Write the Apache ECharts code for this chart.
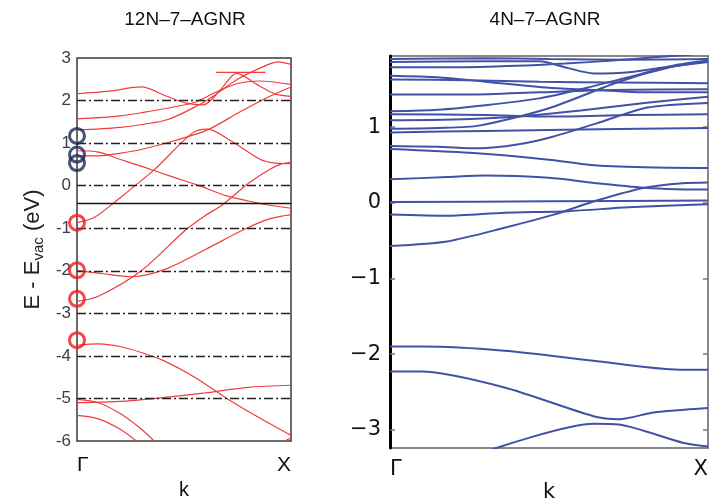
<!DOCTYPE html>
<html>
<head>
<meta charset="utf-8">
<script src="https://cdn.jsdelivr.net/npm/echarts@6/dist/echarts.min.js"></script>
<style>
  html, body { margin: 0; padding: 0; background: #fff; }
  #main { width: 712px; height: 500px; }
</style>
</head>
<body>
<div id="main"></div>
<script>
// 12N-7-AGNR bands, [k, E] pairs (k: 0 = Γ, 1 = X)
var leftBands = [
  [[0, 2.16], [0.15, 2.22], [0.3, 2.32], [0.42, 2.1], [0.51, 1.94], [0.59, 1.9], [0.67, 2.25], [0.746, 2.64], [0.85, 2.35], [0.93, 2.15], [1, 2.1]],
  [[0, 1.57], [0.2, 1.64], [0.42, 1.82], [0.55, 1.96], [0.65, 2.2], [0.75, 2.4], [0.85, 2.46], [1, 2.38]],
  [[0, 1.31], [0.2, 1.37], [0.42, 1.55], [0.57, 1.9], [0.65, 2.15], [0.75, 2.5], [0.85, 2.75], [0.94, 2.91], [1, 2.85]],
  [[0.65, 2.66], [0.88, 2.66]],
  [[0, 0.82], [0.1, 0.79], [0.2, 0.62], [0.31, 0.44], [0.45, 0.2], [0.56, 0.02], [0.7, -0.24], [0.8, -0.36], [0.9, -0.46], [1, -0.53]],
  [[0, 0.7], [0.1, 0.7], [0.2, 0.76], [0.3, 0.85], [0.45, 1.05], [0.61, 1.31], [0.75, 1.7], [0.88, 2.05], [1, 2.32]],
  [[0, -0.87], [0.08, -0.75], [0.19, -0.33], [0.36, 0.37], [0.54, 1.24], [0.61, 1.33], [0.72, 1.05], [0.86, 0.61], [0.93, 0.53], [1, 0.52]],
  [[0, -1.99], [0.12, -2.07], [0.26, -2.14], [0.42, -1.95], [0.6, -1.5], [0.78, -1.03], [0.9, -0.78], [1, -0.68]],
  [[0, -2.72], [0.1, -2.6], [0.3, -2.0], [0.51, -1.03], [0.6, -0.7], [0.68, -0.45], [0.8, 0.05], [0.9, 0.38], [0.95, 0.5], [1, 0.55]],
  [[0, -3.75], [0.1, -3.72], [0.2, -3.78], [0.3, -3.92], [0.4, -4.1], [0.55, -4.5], [0.7, -5.0], [0.85, -5.45], [1, -5.87]],
  [[0, -5.1], [0.2, -5.07], [0.4, -4.98], [0.6, -4.87], [0.8, -4.74], [1, -4.69]],
  [[0, -5.02], [0.1, -5.1], [0.2, -5.35], [0.3, -5.72], [0.37, -6.05]],
  [[0, -5.4], [0.1, -5.48], [0.2, -5.72], [0.29, -6.05]],
  [[0.95, -6.05], [1, -5.93]]
];
var leftFermi = -0.41;
var leftGridLevels = [-5, -4, -3, -2, -1, 0, 1, 2];
var leftNavyCircles = [[0, 1.17], [0, 0.73], [0, 0.53]];
var leftRedCircles = [[0, -0.87], [0, -1.99], [0, -2.66], [0, -3.63]];

// 4N-7-AGNR bands
var rightBands = [
  [[0, 1.9], [0.3, 1.91], [0.5, 1.9], [0.75, 1.89], [1, 1.9]],
  [[0, 1.86], [0.3, 1.87], [0.47, 1.87], [0.56, 1.78], [0.64, 1.71], [0.76, 1.73], [0.88, 1.8], [1, 1.86]],
  [[0, 1.79], [0.2, 1.79], [0.4, 1.81], [0.55, 1.84], [0.7, 1.88], [0.85, 1.93], [0.95, 1.96]],
  [[0, 1.68], [0.15, 1.66], [0.3, 1.6], [0.5, 1.52], [0.65, 1.49], [0.8, 1.46], [1, 1.46]],
  [[0, 1.63], [0.25, 1.62], [0.47, 1.6], [0.7, 1.59], [1, 1.58]],
  [[0, 1.43], [0.25, 1.43], [0.47, 1.46], [0.7, 1.49], [1, 1.5]],
  [[0, 1.21], [0.15, 1.23], [0.3, 1.29], [0.47, 1.38], [0.6, 1.5], [0.75, 1.66], [0.9, 1.82], [1, 1.88]],
  [[0, 1.17], [0.3, 1.16], [0.5, 1.14], [0.75, 1.16], [1, 1.17]],
  [[0, 1.09], [0.2, 1.1], [0.4, 1.14], [0.6, 1.22], [0.8, 1.32], [1, 1.4]],
  [[0, 0.98], [0.15, 0.99], [0.28, 1.02], [0.5, 1.25], [0.72, 1.6], [0.88, 1.79], [1, 1.87]],
  [[0, 0.93], [0.3, 0.95], [0.6, 0.97], [1, 0.99]],
  [[0, 0.75], [0.15, 0.74], [0.28, 0.72], [0.4, 0.77], [0.5, 0.86], [0.65, 1.05], [0.81, 1.26], [1, 1.32]],
  [[0, 0.71], [0.25, 0.66], [0.5, 0.57], [0.63, 0.5], [0.8, 0.47], [1, 0.46]],
  [[0, 0.31], [0.18, 0.34], [0.3, 0.36], [0.5, 0.33], [0.65, 0.26], [0.8, 0.2], [0.9, 0.18], [1, 0.175]],
  [[0, 0.01], [0.5, 0.02], [1, 0.03]],
  [[0, -0.154], [0.18, -0.17], [0.36, -0.13], [0.56, -0.11], [0.75, -0.06], [1, -0.02]],
  [[0, -0.57], [0.18, -0.51], [0.36, -0.33], [0.52, -0.15], [0.65, 0.03], [0.8, 0.2], [0.92, 0.26], [1, 0.27]],
  [[0, -1.9], [0.1, -1.9], [0.36, -1.955], [0.64, -2.087], [0.91, -2.205], [1, -2.205]],
  [[0, -2.23], [0.1, -2.23], [0.36, -2.44], [0.64, -2.82], [0.72, -2.86], [0.83, -2.77], [1, -2.71]],
  [[0.32, -3.26], [0.64, -2.92], [0.72, -2.93], [0.92, -3.17], [1, -3.22]]
];
var rightTicks = [-3, -2, -1, 0, 1];

var kLabels = ['Γ', 'X'];
var titles = ['12N–7–AGNR', '4N–7–AGNR'];

var font = 'Liberation Sans, Arial, sans-serif';
var dejavu = 'DejaVu Sans, sans-serif';
var series = [];

leftBands.forEach(function (band) {
  series.push({
    type: 'line', xAxisIndex: 0, yAxisIndex: 0,
    data: band, smooth: 0.3, symbol: 'none', silent: true,
    lineStyle: { color: '#f23b3b', width: 1.2 }
  });
});
// dash-dot reference levels + Fermi level
series.push({
  type: 'line', xAxisIndex: 0, yAxisIndex: 0, data: [], silent: true,
  markLine: {
    symbol: 'none', silent: true, label: { show: false },
    data: leftGridLevels.map(function (v) {
      return { yAxis: v, lineStyle: { color: '#222', width: 1.3, type: [9, 3, 2, 3] } };
    }).concat([{ yAxis: leftFermi, lineStyle: { color: '#111', width: 1.3, type: 'solid' } }])
  }
});
series.push({
  type: 'scatter', xAxisIndex: 0, yAxisIndex: 0, data: leftNavyCircles, clip: false,
  symbol: 'circle', symbolSize: 15, z: 5,
  itemStyle: { color: 'rgba(255,255,255,0)', borderColor: '#1d2756', borderWidth: 3 }
});
series.push({
  type: 'scatter', xAxisIndex: 0, yAxisIndex: 0, data: leftRedCircles, clip: false,
  symbol: 'circle', symbolSize: 15, z: 5,
  itemStyle: { color: 'rgba(255,255,255,0)', borderColor: '#ee1c1c', borderWidth: 3 }
});

rightBands.forEach(function (band) {
  series.push({
    type: 'line', xAxisIndex: 1, yAxisIndex: 1,
    data: band, smooth: 0.25, symbol: 'none', silent: true,
    lineStyle: { color: '#4152a6', width: 2 }
  });
});

var kAxisLabel = {
  color: '#111', fontSize: 21, fontFamily: font, margin: 14,
  alignMinLabel: 'left', alignMaxLabel: 'right',
  formatter: function (v) { return v === 0 ? kLabels[0] : kLabels[1]; }
};

var myChart = echarts.init(document.getElementById('main'));
myChart.setOption({
  animation: false,
  backgroundColor: '#fff',
  title: [
    { text: titles[0], left: 180, top: 5, textAlign: 'center',
      textStyle: { fontSize: 19, fontWeight: 'normal', color: '#111', fontFamily: font } },
    { text: titles[1], left: 540, top: 5, textAlign: 'center',
      textStyle: { fontSize: 19, fontWeight: 'normal', color: '#111', fontFamily: font } }
  ],
  grid: [
    { left: 77, top: 58, width: 214, height: 383, outerBoundsMode: 'none',
      show: true, borderColor: '#3a3a3a', borderWidth: 1.5 },
    { left: 390, top: 56, width: 318, height: 392, outerBoundsMode: 'none',
      show: true, borderColor: '#888', borderWidth: 2 }
  ],
  xAxis: [
    { type: 'value', gridIndex: 0, min: 0, max: 1, interval: 1,
      name: 'k', nameLocation: 'middle', nameGap: 38,
      nameTextStyle: { fontSize: 20, color: '#111', fontFamily: font },
      axisLine: { show: false }, axisTick: { show: false }, splitLine: { show: false },
      axisLabel: kAxisLabel },
    { type: 'value', gridIndex: 1, min: 0, max: 1, interval: 1,
      name: 'k', nameLocation: 'middle', nameGap: 34, nameMoveOverlap: false,
      nameTextStyle: { fontSize: 21, color: '#111', fontFamily: dejavu },
      axisLine: { show: false }, axisTick: { show: false }, splitLine: { show: false },
      axisLabel: Object.assign({}, kAxisLabel, { fontFamily: dejavu, fontSize: 21, margin: 11 }) }
  ],
  yAxis: [
    { type: 'value', gridIndex: 0, min: -6, max: 3, interval: 1,
      name: '{a|E - E}{b|vac}{a| (eV)}', nameLocation: 'middle', nameRotate: 90, nameGap: 31,
      nameTextStyle: {
        color: '#222', fontFamily: font,
        rich: {
          a: { fontSize: 22, color: '#222', fontFamily: font },
          b: { fontSize: 15, color: '#222', fontFamily: font, padding: [11, 0, 0, 0] }
        }
      },
      axisLine: { show: false }, axisTick: { show: false }, splitLine: { show: false },
      axisLabel: { color: '#3b3b4a', fontSize: 17, fontFamily: font, margin: 6 } },
    { type: 'value', gridIndex: 1, min: -3.24, max: 1.94,
      axisLine: { show: true, lineStyle: { color: '#000', width: 3 } },
      axisTick: { show: true, inside: true, length: 5, customValues: rightTicks, lineStyle: { color: '#777', width: 1.5 } },
      splitLine: { show: false },
      axisLabel: { color: '#111', fontSize: 21, fontFamily: dejavu, margin: 9, customValues: rightTicks,
        formatter: function (v) { return v < 0 ? '\u2212' + Math.abs(v) : String(v); } } },
    { type: 'value', gridIndex: 1, min: -3.24, max: 1.94, position: 'right',
      axisLine: { show: false },
      axisTick: { show: true, inside: true, length: 5, customValues: rightTicks, lineStyle: { color: '#777', width: 1.5 } },
      splitLine: { show: false }, axisLabel: { show: false } }
  ],
  series: series
});
</script>
</body>
</html>
